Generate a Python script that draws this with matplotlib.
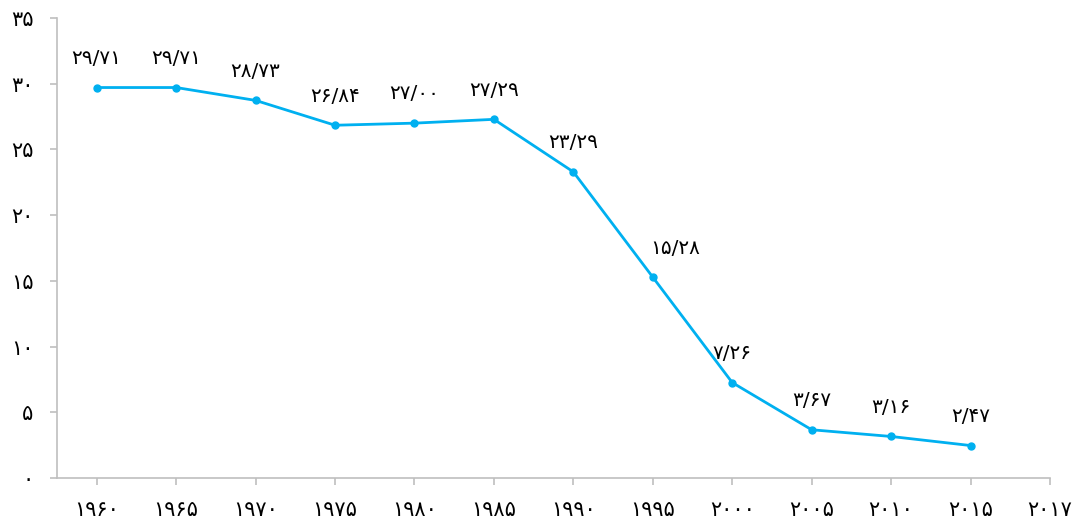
import matplotlib.pyplot as plt

plt.rcParams['font.family'] = ['DejaVu Sans']

years = ['۱۹۶۰', '۱۹۶۵', '۱۹۷۰', '۱۹۷۵', '۱۹۸۰', '۱۹۸۵', '۱۹۹۰',
         '۱۹۹۵', '۲۰۰۰', '۲۰۰۵', '۲۰۱۰', '۲۰۱۵', '۲۰۱۷']
values = [29.71, 29.71, 28.73, 26.84, 27.00, 27.29, 23.29,
          15.28, 7.26, 3.67, 3.16, 2.47]
labels = ['۲۹/۷۱', '۲۹/۷۱', '۲۸/۷۳', '۲۶/۸۴', '۲۷/۰۰', '۲۷/۲۹', '۲۳/۲۹',
          '۱۵/۲۸', '۷/۲۶', '۳/۶۷', '۳/۱۶', '۲/۴۷']
yticks = [0, 5, 10, 15, 20, 25, 30, 35]
ytick_labels = ['۰', '۵', '۱۰', '۱۵', '۲۰', '۲۵', '۳۰', '۳۵']

blue = '#00B0F0'
gray = '#BFBFBF'

fig = plt.figure(figsize=(10.78, 5.2), dpi=100)
ax = fig.add_axes([57 / 1078, 42 / 520, (1050 - 57) / 1078, 460 / 520])

x = list(range(len(values)))
ax.plot(x, values, color=blue, lw=2, marker='o', ms=5)

for i, (v, t) in enumerate(zip(values, labels)):
    dx = 16 if i == 7 else 0
    ax.annotate(t, (i, v), xytext=(dx, 21), textcoords='offset points',
                ha='center', va='center', fontsize=14.5)

ax.set_xlim(-0.5, 12)
ax.set_ylim(0, 35)
ax.set_xticks(range(len(years)))
ax.set_xticklabels(years, fontsize=15)
ax.set_yticks(yticks)
ax.set_yticklabels(ytick_labels, fontsize=15)

for s in ['top', 'right']:
    ax.spines[s].set_visible(False)
for s in ['left', 'bottom']:
    ax.spines[s].set_color(gray)
    ax.spines[s].set_linewidth(1.2)
ax.tick_params(axis='x', colors=gray, length=5, width=1.2, labelcolor='black', pad=11)
ax.tick_params(axis='y', colors=gray, length=5, width=1.2, labelcolor='black', pad=12)

fig.savefig('out.png', dpi=100)
